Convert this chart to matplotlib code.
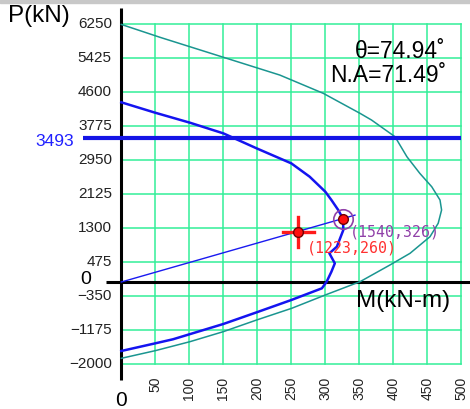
import matplotlib
matplotlib.use("Agg")
import matplotlib.pyplot as plt
from matplotlib.patches import Rectangle

plt.rcParams['font.family'] = ['Liberation Sans', 'DejaVu Sans']

# ---- data ----
y_ticks = [6250, 5425, 4600, 3775, 2950, 2125, 1300, 475, -350, -1175, -2000]
x_ticks = [50, 100, 150, 200, 250, 300, 350, 400, 450, 500]

# nominal strength curve (teal) M, P
teal_M = [0, 57, 233, 297, 351, 368, 402.5, 420, 439, 456.5, 468.7, 471, 466, 454,
          424.6, 395, 351, 300, 250.6, 199, 150, 101, 50, 0]
teal_P = [6250, 5937, 5022, 4578, 4093, 3930, 3525, 3040, 2636, 2312, 1989, 1747, 1424, 1100,
          696, 412, 7, -315, -638, -922, -1205, -1448, -1666, -1852]

# design strength curve (blue) M, P
blue_M = [0, 50, 101, 150, 199, 250, 277, 300, 309, 319, 326, 326.5, 317, 306, 314, 309,
          302, 295, 250, 199, 150, 76, 50, 0]
blue_P = [4360, 4107, 3865, 3607, 3243, 2879, 2555, 2191, 1989, 1747, 1540, 1261, 857, 696,
          453, 250, 7, -153, -437, -736, -1019, -1390, -1488, -1674]

p_max = 3493
cap_P, cap_M = 1540, 326      # capacity point
load_P, load_M = 1223, 260    # load point
ray_end_M = 343.6
theta = 74.94
na = 71.49

# ---- figure ----
W, H = 470, 409
fig = plt.figure(figsize=(W / 100, H / 100), dpi=100)
ax = fig.add_axes([0, 0, 1, 1])
x0px, sx = 121.3, 0.68          # px per kN-m
y0px, sy = 282.0, 34 / 825      # px per kN
ax.set_xlim(-x0px / sx, (W - x0px) / sx)
ax.set_ylim(-(H - y0px) / sy, y0px / sy)
ax.axis('off')

def dx(px):
    return px / sx

def dy(px):
    return px / sy

grid_c = '#33ef99'
top, bot, right = y_ticks[0], y_ticks[-1], x_ticks[-1]
for m in x_ticks:
    ax.plot([m, m], [bot, top], color=grid_c, lw=1.1, zorder=1)
for p in y_ticks:
    ax.plot([0, right], [p, p], color=grid_c, lw=1.1, zorder=1)

# axes lines
ax.plot([0, 0], [dy(-98), dy(274)], color='black', lw=2.2, zorder=3, solid_capstyle='butt')
ax.plot([dx(-15), dx(W - x0px)], [0, 0], color='black', lw=2.2, zorder=3, solid_capstyle='butt')

# curves
ax.plot(teal_M, teal_P, color='#1a9590', lw=1.1, zorder=4)
ax.plot(blue_M, blue_P, color='#1414f0', lw=1.8, zorder=5)
ax.plot([dx(-38), right], [p_max, p_max], color='#1414e6', lw=3, zorder=5, solid_capstyle='butt')

# ray from origin
ax.plot([0, ray_end_M], [0, ray_end_M * cap_P / cap_M], color='#1a1af0', lw=1.0, zorder=6)

# load point crosshair
ax.plot([load_M - dx(15.5), load_M + dx(15.5)], [load_P, load_P], color='#ff1a1a', lw=2.4, zorder=7)
ax.plot([load_M, load_M], [load_P - dy(15), load_P + dy(15)], color='#ff1a1a', lw=2.4, zorder=7)
ax.plot([load_M], [load_P], 'o', ms=7, mfc='#ff1010', mec='#700000', mew=1, zorder=8)

# capacity point
ax.plot([cap_M], [cap_P], 'o', ms=14, mfc='none', mec='#9040a8', mew=1.2, zorder=7)
ax.plot([cap_M], [cap_P], 'o', ms=7, mfc='#ff1010', mec='#700000', mew=1, zorder=8)

mono = ['DejaVu Sans Mono']
ax.text(dx(350 - x0px), dy(y0px - 232), f"({cap_P},{cap_M})", color='#9040a8',
        fontsize=10.7, family=mono, ha='left', va='center', zorder=9)
ax.text(dx(306.7 - x0px), dy(y0px - 248), f"({load_P},{load_M})", color='#ff3030',
        fontsize=10.7, family=mono, ha='left', va='center', zorder=9)

# tick labels
tick_c = '#222222'
for p in y_ticks:
    ax.text(dx(-9.5), p, f"{p}".replace('-', '\u2212'), ha='right', va='center',
            fontsize=11, color=tick_c)
for m in x_ticks:
    ax.text(m, dy(y0px - 377), f"{m}", ha='center', va='top', rotation=90,
            fontsize=10, color=tick_c)

ax.text(dx(-47), dy(y0px - 142), f"{p_max}", ha='right', va='center', fontsize=12.5, color='#2020ff')

ax.text(dx(-36), dy(3), "0", ha='center', va='center', fontsize=14, color='black')
ax.text(0, dy(y0px - 400), "0", ha='center', va='center', fontsize=15, color='black')
ax.text(dx(8 - x0px), dy(y0px - 16), "P(kN)", ha='left', va='center', fontsize=17.5, color='black')
ax.text(dx(356 - x0px), dy(y0px - 301), "M(kN-m)", ha='left', va='center', fontsize=17.5, color='black')

ax.text(dx(446 - x0px), dy(y0px - 52), f"\u03b8={theta}\u02da", ha='right', va='center',
        fontsize=16.5, color='black')
ax.text(dx(446 - x0px), dy(y0px - 75), f"N.A={na}\u02da", ha='right', va='center',
        fontsize=16.5, color='black')

# top grey strip
fig.patches.append(Rectangle((0, 1 - 2.5 / H), 1, 2.5 / H, transform=fig.transFigure,
                             color='#c8c8c8', zorder=0))

fig.savefig('out.png', dpi=100)
